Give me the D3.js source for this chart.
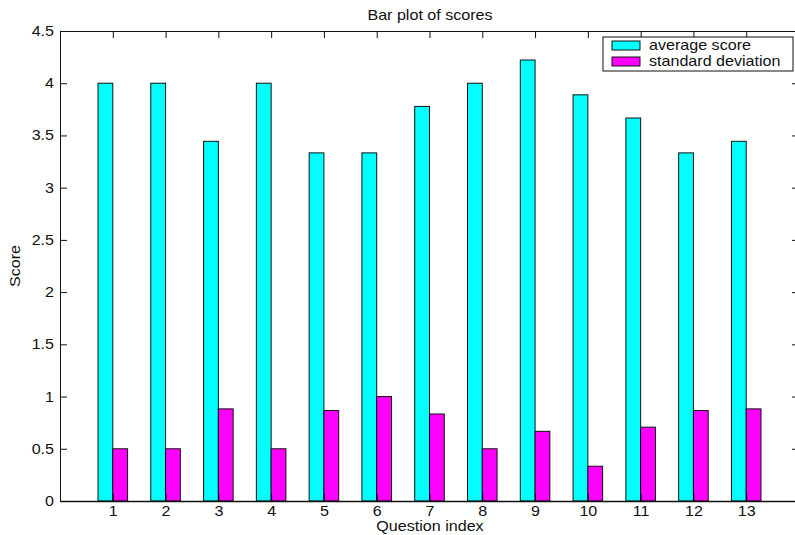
<!DOCTYPE html>
<html>
<head>
<meta charset="utf-8">
<style>
body { margin: 0; background: #fff; }
svg { display: block; font-family: "Liberation Sans", Arial, sans-serif; }
.axis path, .axis line { stroke: #111; }
.bar { stroke: #111; stroke-width: 1; }
</style>
</head>
<body>
<div id="ch1"></div>
<script src="https://d3js.org/d3.v7.min.js"></script>
<script>

var questions = [1,2,3,4,5,6,7,8,9,10,11,12,13];
var avgScore = [4.0, 4.0, 3.444, 4.0, 3.333, 3.333, 3.778, 4.0, 4.222, 3.889, 3.667, 3.333, 3.444];
var stdDev   = [0.5, 0.5, 0.882, 0.5, 0.866, 1.0, 0.833, 0.5, 0.667, 0.333, 0.707, 0.866, 0.882];
var yTicks = [0,0.5,1,1.5,2,2.5,3,3.5,4,4.5];
var seriesNames = ["average score", "standard deviation"];
var seriesColors = ["#00ffff", "#ff00ff"];

var width = 795, height = 535;
var sx = 1.15; // text is a bit wider than tall in the original

var x = d3.scaleLinear().domain([0,14]).range([60,799]);
var y = d3.scaleLinear().domain([0,4.5]).range([501,31]);
var bw = 0.28; // bar width in x units

var svg = d3.select("#ch1").append("svg")
    .attr("width", width)
    .attr("height", height);

// bars
var data = questions.map(function(q,i){ return {q:q, v:[avgScore[i], stdDev[i]]}; });
var grp = svg.selectAll(".grp").data(data).enter().append("g").attr("class","grp");
[0,1].forEach(function(k){
  grp.append("rect")
    .attr("class","bar")
    .attr("x", function(d){ return x(d.q - bw + k*bw); })
    .attr("width", x(bw) - x(0))
    .attr("y", function(d){ return y(d.v[k]); })
    .attr("height", function(d){ return y(0) - y(d.v[k]); })
    .attr("fill", seriesColors[k]);
});

function squash(sel){
  sel.selectAll("text")
    .style("font-size","14px")
    .style("font-family","'Liberation Sans', Arial, sans-serif")
    .attr("fill","#111")
    .each(function(){
      var t = d3.select(this);
      var tx = +t.attr("x") || 0;
      t.attr("transform","scale(" + sx + ",1)").attr("x", tx/sx);
    });
}

// axes
var gx = svg.append("g").attr("class","axis")
  .attr("transform","translate(0," + y(0) + ")")
  .call(d3.axisBottom(x).tickValues(questions).tickSizeInner(-7).tickSizeOuter(0).tickPadding(5)
        .tickFormat(function(d){ return String(d); }));
gx.select(".domain").attr("stroke-width",1.5);
squash(gx);

svg.append("g").attr("class","axis")
  .attr("transform","translate(0," + y(4.5) + ")")
  .call(d3.axisTop(x).tickValues(questions).tickSizeInner(-7).tickSizeOuter(0).tickFormat(""));

var gy = svg.append("g").attr("class","axis")
  .attr("transform","translate(" + x(0) + ",0)")
  .call(d3.axisLeft(y).tickValues(yTicks).tickSizeInner(-7).tickSizeOuter(0).tickPadding(6)
        .tickFormat(function(d){ return String(d); }));
squash(gy);

svg.append("g").attr("class","axis")
  .attr("transform","translate(" + x(14) + ",0)")
  .call(d3.axisRight(y).tickValues(yTicks).tickSizeInner(-7).tickSizeOuter(0).tickFormat(""));

// labels
function label(txt, px, py, rot){
  svg.append("text")
    .attr("transform","translate(" + px + "," + py + ")" + (rot ? " rotate(" + rot + ")" : "") + " scale(" + sx + ",1)")
    .attr("text-anchor","middle")
    .attr("font-size","14px")
    .attr("fill","#111")
    .text(txt);
}
label("Bar plot of scores", 430, 20);
label("Question index", 430, 531);
label("Score", 20, 266, -90);

// legend
var lg = svg.append("g").attr("transform","translate(603,37)");
lg.append("rect").attr("width",190).attr("height",34)
  .attr("fill","#fff").attr("stroke","#111");
seriesNames.forEach(function(n,k){
  lg.append("rect").attr("class","bar")
    .attr("x",9).attr("y",4 + k*16).attr("width",28).attr("height",9)
    .attr("fill",seriesColors[k]);
  lg.append("text")
    .attr("transform","translate(46," + (13 + k*16) + ") scale(" + sx + ",1)")
    .attr("font-size","14px")
    .attr("fill","#111")
    .text(n);
});

</script>
</body>
</html>
